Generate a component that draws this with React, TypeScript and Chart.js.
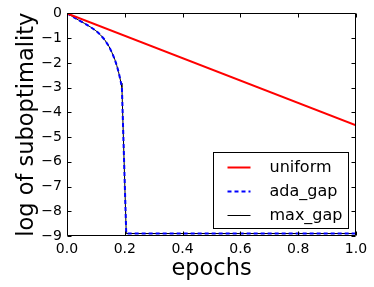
import React, { useEffect, useRef } from "react";
import { Chart, registerables } from "chart.js";

Chart.register(...registerables);

const seriesLabels = ["uniform", "ada_gap", "max_gap"];
const uniformEpochs = [0, 1.0];
const uniformValues = [0, -4.53];
const gapEpochs = [0, 0.02, 0.04, 0.06, 0.08, 0.1, 0.115, 0.13, 0.145, 0.155, 0.165, 0.172, 0.178, 0.183, 0.187, 0.19, 0.205, 1.0];
const adaGapValues = [0, -0.13, -0.27, -0.4, -0.54, -0.7, -0.86, -1.06, -1.33, -1.57, -1.85, -2.1, -2.35, -2.6, -2.82, -3.0, -8.9, -8.9];
const maxGapValues = [0, -0.13, -0.27, -0.4, -0.54, -0.7, -0.86, -1.06, -1.33, -1.57, -1.85, -2.1, -2.35, -2.6, -2.82, -3.0, -8.9, -8.9];
const xTicks = [0, 0.2, 0.4, 0.6, 0.8, 1.0];
const yTicks = [-9, -8, -7, -6, -5, -4, -3, -2, -1, 0];

const FONT = "'DejaVu Sans', sans-serif";

const toPts = (xs: number[], ys: number[]) => xs.map((x, i) => ({ x, y: ys[i] }));

const framePlugin = {
  id: "frame",
  afterDatasetsDraw(chart: any) {
    const { ctx, chartArea } = chart;
    const { left, right, top, bottom } = chartArea;
    const xs = chart.scales.x;
    const ys = chart.scales.y;
    ctx.save();
    ctx.strokeStyle = "#000";
    ctx.lineWidth = 1;
    ctx.beginPath();
    const L = Math.round(left) + 0.5, R = Math.round(right) - 0.5;
    const T = Math.round(top) + 0.5, B = Math.round(bottom) - 0.5;
    ctx.rect(L, T, R - L, B - T);
    const len = 4;
    xTicks.forEach((v) => {
      const px = Math.round(xs.getPixelForValue(v)) + 0.5;
      ctx.moveTo(px, B); ctx.lineTo(px, B - len);
      ctx.moveTo(px, T); ctx.lineTo(px, T + len);
    });
    yTicks.forEach((v) => {
      const py = Math.round(ys.getPixelForValue(v)) + 0.5;
      ctx.moveTo(L, py); ctx.lineTo(L + len, py);
      ctx.moveTo(R, py); ctx.lineTo(R - len, py);
    });
    ctx.stroke();

    // legend
    const bw = 135, bh = 76;
    const bx = Math.round(right) - 8 - bw + 0.5;
    const by = Math.round(bottom) - 8 - bh + 0.5;
    ctx.fillStyle = "#fff";
    ctx.fillRect(bx, by, bw, bh);
    ctx.strokeStyle = "#000";
    ctx.lineWidth = 1;
    ctx.strokeRect(bx, by, bw, bh);
    const styles = [
      { color: "#ff0000", width: 2, dash: [] as number[] },
      { color: "#0000ff", width: 2, dash: [4, 3] },
      { color: "#000000", width: 1, dash: [] as number[] },
    ];
    ctx.font = `16px ${FONT}`;
    ctx.textBaseline = "middle";
    ctx.textAlign = "left";
    seriesLabels.forEach((lab, i) => {
      const y = Math.round(by + 14 + i * 24) + 0.5;
      ctx.beginPath();
      ctx.strokeStyle = styles[i].color;
      ctx.lineWidth = styles[i].width;
      ctx.setLineDash(styles[i].dash);
      ctx.moveTo(bx + 14, y);
      ctx.lineTo(bx + 37, y);
      ctx.stroke();
      ctx.setLineDash([]);
      ctx.fillStyle = "#000";
      ctx.fillText(lab, bx + 56, y);
    });
    ctx.restore();
  },
};

export default function App() {
  const ref = useRef<HTMLCanvasElement>(null);
  useEffect(() => {
    document.body.style.margin = "0";
    const chart = new Chart(ref.current!, {
      type: "scatter",
      data: {
        datasets: [
          {
            label: seriesLabels[0],
            data: toPts(uniformEpochs, uniformValues),
            showLine: true,
            borderColor: "#ff0000",
            borderWidth: 2,
            pointRadius: 0,
          },
          {
            label: seriesLabels[1],
            data: toPts(gapEpochs, adaGapValues),
            showLine: true,
            borderColor: "#0000ff",
            borderWidth: 2,
            borderDash: [4, 3],
            pointRadius: 0,
          },
          {
            label: seriesLabels[2],
            data: toPts(gapEpochs, maxGapValues),
            showLine: true,
            borderColor: "#000000",
            borderWidth: 1,
            pointRadius: 0,
          },
        ],
      },
      options: {
        responsive: false,
        animation: false,
        layout: { padding: { top: 13, right: 18, left: 0, bottom: 0 } },
        plugins: { legend: { display: false }, tooltip: { enabled: false } },
        scales: {
          x: {
            type: "linear",
            min: 0,
            max: 1,
            grid: { display: false, drawTicks: false },
            border: { display: false },
            afterBuildTicks: (s: any) => { s.ticks = xTicks.map((v) => ({ value: v })); },
            afterFit: (s: any) => { s.height = 51; },
            ticks: {
              color: "#000",
              font: { family: FONT, size: 14 },
              padding: 5,
              maxRotation: 0,
              autoSkip: false,
              callback: (v: any) => Number(v).toFixed(1),
            },
            title: {
              display: true,
              text: "epochs",
              color: "#000",
              font: { family: FONT, size: 22.5 },
              padding: { top: 0, bottom: 4 },
            },
          },
          y: {
            type: "linear",
            min: -9,
            max: 0,
            grid: { display: false, drawTicks: false },
            border: { display: false },
            afterBuildTicks: (s: any) => { s.ticks = yTicks.map((v) => ({ value: v })); },
            afterFit: (s: any) => { s.width = 67; },
            ticks: {
              color: "#000",
              font: { family: FONT, size: 14 },
              padding: 5,
              autoSkip: false,
              callback: (v: any) => String(v).replace("-", "\u2212"),
            },
            title: {
              display: true,
              text: "log of suboptimality",
              color: "#000",
              font: { family: FONT, size: 22.5 },
              padding: { top: 14, bottom: 0 },
            },
          },
        },
      },
      plugins: [framePlugin],
    });
    return () => chart.destroy();
  }, []);
  return <canvas ref={ref} width={374} height={287} style={{ display: "block" }} />;
}
